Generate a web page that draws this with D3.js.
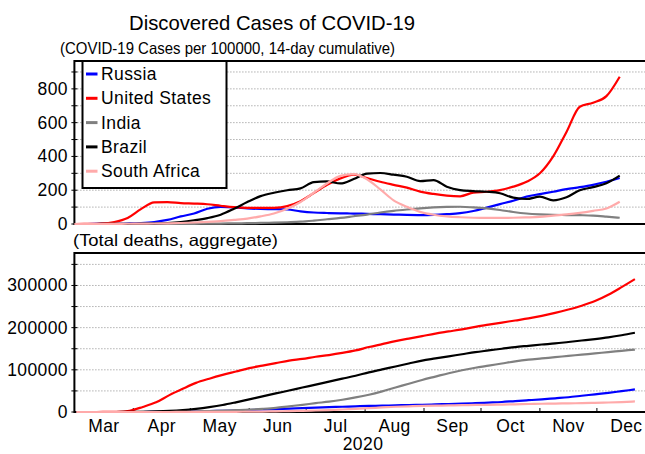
<!DOCTYPE html>
<html><head><meta charset="utf-8">
<script src="https://cdn.jsdelivr.net/npm/d3@7"></script>
<style>
html,body{margin:0;padding:0;background:#fff;overflow:hidden}
svg{display:block;font-family:"Liberation Sans",Arial,Helvetica,sans-serif}
</style></head><body>
<svg id="chart" width="645" height="454"></svg>
<script>
// Series names and colours (legend order = draw order)
const countries = ["Russia", "United States", "India", "Brazil", "South Africa"];
const colors = ["#0000ff", "#ff0000", "#808080", "#000000", "#ffaaaa"];

// 14-day cumulative cases per 100000, weekly samples
const caseDates = ["2020-03-01","2020-03-08","2020-03-15","2020-03-22","2020-03-29",
  "2020-04-05","2020-04-12","2020-04-19","2020-04-26","2020-05-03",
  "2020-05-10","2020-05-17","2020-05-24","2020-05-31","2020-06-07",
  "2020-06-14","2020-06-21","2020-06-28","2020-07-05","2020-07-12",
  "2020-07-19","2020-07-26","2020-08-02","2020-08-09","2020-08-16",
  "2020-08-23","2020-08-30","2020-09-06","2020-09-13","2020-09-20",
  "2020-09-27","2020-10-04","2020-10-11","2020-10-18","2020-10-25",
  "2020-11-01","2020-11-08","2020-11-15","2020-11-22","2020-11-29",
  "2020-12-06","2020-12-13"];
const casesRussia = [0,0,0.5,1,3, 6,12,24,45,62, 90,101,99,92,89, 88,86,75,68,65,
  63,62,60,58,56, 54,53,54,58,64, 77,97,118,138,162, 177,191,206,218,232, 250,272];
const casesUS = [0,1,3,12,36, 88,128,130,124,121, 117,108,100,96,95, 96,106,135,183,232,
  270,292,272,250,232, 215,192,178,168,164, 186,191,201,221,250, 300,400,545,694,718, 757,872];
const casesIndia = [0,0,0,0,0.1, 0.2,0.4,0.6,0.9,1.3, 1.9,2.6,3.6,4.8,6.3, 8.2,10.5,13.5,20,28,
  36,46,56,68,78, 86,93,98,101,102, 98,92,83,71,62, 57,54,53,52,50, 44,37];
const casesBrazil = [0,0,0.2,0.5,1, 2,3,6,12,22, 35,55,90,130,165, 185,200,211,248,252,
  240,266,298,302,292, 280,254,260,221,201, 195,191,182,156,148, 162,140,158,200,218, 241,286];
const casesSouthAfrica = [0,0,0.1,0.5,1.5, 2.5,3,4,6,9, 13,17,24,32,45, 62,90,130,185,240,
  285,295,265,205,140, 102,72,55,45,40, 37,36,36,37,39, 42,50,57,66,78, 92,132];

// Total deaths, weekly samples
const deathDates = ["2020-03-02","2020-03-09","2020-03-16","2020-03-23","2020-03-30",
  "2020-04-06","2020-04-13","2020-04-20","2020-04-27","2020-05-04",
  "2020-05-11","2020-05-18","2020-05-25","2020-06-01","2020-06-08",
  "2020-06-15","2020-06-22","2020-06-29","2020-07-06","2020-07-13",
  "2020-07-20","2020-07-27","2020-08-03","2020-08-10","2020-08-17",
  "2020-08-24","2020-08-31","2020-09-07","2020-09-14","2020-09-21",
  "2020-09-28","2020-10-05","2020-10-12","2020-10-19","2020-10-26",
  "2020-11-02","2020-11-09","2020-11-16","2020-11-23","2020-11-30",
  "2020-12-07","2020-12-14","2020-12-21"];
const deathsRussia = [0,0,0,0,10, 50,150,400,800,1400, 2000,2800,3600,4700,5900,
  7000,8000,9100,10500,11500, 12500,13500,14300,15000,15800, 16500,17200,18000,19000,19900,
  21000,22300,23700,26000,28000, 30000,32500,35000,38500,42000, 45500,49500,53500];
const deathsUS = [0,0,100,500,3000, 12000,23000,40000,55000,69000, 79000,88000,96000,104000,110000,
  116000,122000,126000,131000,135000, 140000,146000,154000,161000,168000, 174000,180000,186000,191000,196000,
  202000,207000,212000,217000,222000, 228000,235000,243000,252000,263000, 278000,296000,315000];
const deathsIndia = [0,0,0,0,30, 100,300,600,900,1400, 2200,3100,4300,5600,7500,
  9900,13500,17000,21000,24500, 29000,34500,41000,49000,58000, 67000,76000,84000,92000,99000,
  105000,110000,115000,120000,124000, 127000,130000,133000,136000,139000, 142000,145000,148000];
const deathsBrazil = [0,0,0,30,200, 600,1300,2500,4500,7500, 11500,16500,23000,30000,37000,
  44000,51000,58000,65000,72000, 79000,86000,94000,101000,108000, 115000,122000,127000,132000,137000,
  142000,146000,150000,154000,157000, 160000,162500,166000,169500,173000, 177000,182000,188000];
const deathsSouthAfrica = [0,0,0,0,0, 10,20,50,90,120, 200,300,500,700,1000,
  1500,2100,2700,3500,4500, 5900,7500,9000,11000,12400, 13500,14400,15000,15700,16200,
  16700,17100,17600,18300,19000, 19600,20000,20500,21000,21600, 22500,23500,25000];

// Axis ticks
const caseTicks = [0, 200, 400, 600, 800];
const caseGrid = [100, 200, 300, 400, 500, 600, 700, 800, 900];
const deathTicks = [0, 100000, 200000, 300000];
const deathGrid = [50000, 100000, 150000, 200000, 250000, 300000, 350000];
const monthLabels = ["Mar","Apr","May","Jun","Jul","Aug","Sep","Oct","Nov","Dec"];
const yearLabel = "2020";

const parse = d3.timeParse("%Y-%m-%d");
const svg = d3.select("#chart");
const W = 645;
const labelFont = 17.5;

const x = d3.scaleTime()
  .domain([new Date(2020, 2, 1), new Date(2021, 0, 1)])
  .range([74.4, 655.8]);

const panels = [
  { y: d3.scaleLinear().domain([0, 965]).range([224, 61]),
    dates: caseDates.map(parse),
    series: [casesRussia, casesUS, casesIndia, casesBrazil, casesSouthAfrica],
    ticks: caseTicks, grid: caseGrid },
  { y: d3.scaleLinear().domain([0, 377000]).range([412, 253]),
    dates: deathDates.map(parse),
    series: [deathsRussia, deathsUS, deathsIndia, deathsBrazil, deathsSouthAfrica],
    ticks: deathTicks, grid: deathGrid }
];

const x0 = x.range()[0];

panels.forEach(p => {
  const [yb, yt] = p.y.range();
  const g = svg.append("g");
  // dotted grid
  g.selectAll("line.grid").data(p.grid).join("line")
    .attr("x1", x0).attr("x2", W)
    .attr("y1", d => p.y(d)).attr("y2", d => p.y(d))
    .attr("stroke", "#8a8a8a").attr("stroke-width", 1)
    .attr("stroke-dasharray", "1,2");
  // y tick marks
  g.selectAll("line.tk").data([0].concat(p.grid)).join("line")
    .attr("x1", x0 - 3).attr("x2", x0 + 3)
    .attr("y1", d => p.y(d)).attr("y2", d => p.y(d))
    .attr("stroke", "#000").attr("stroke-width", 1);
  // y tick labels
  g.selectAll("text.yl").data(p.ticks).join("text")
    .attr("x", 68).attr("y", d => p.y(d) + 6)
    .attr("text-anchor", "end")
    .attr("font-size", labelFont).attr("letter-spacing", 0.4)
    .text(d => d);
  // frame
  g.append("path")
    .attr("d", `M${W},${yt}H${x0}V${yb}H${W}`)
    .attr("fill", "none").attr("stroke", "#000").attr("stroke-width", 2);
});

// month tick marks and mid-month labels on the lower panel
const months = d3.timeMonth.range(new Date(2020, 2, 1), new Date(2021, 0, 1));
const by = panels[1].y.range()[0];
svg.selectAll("line.mt").data(months.slice(1)).join("line")
  .attr("x1", d => x(d)).attr("x2", d => x(d))
  .attr("y1", by).attr("y2", by - 4)
  .attr("stroke", "#000").attr("stroke-width", 1);
svg.selectAll("text.ml").data(months).join("text")
  .attr("x", d => (x(d) + x(d3.timeMonth.offset(d, 1))) / 2)
  .attr("y", 431.7)
  .attr("text-anchor", "middle")
  .attr("font-size", labelFont).attr("letter-spacing", 0.4)
  .text((d, i) => monthLabels[i]);
svg.append("text").attr("x", 363).attr("y", 450)
  .attr("text-anchor", "middle").attr("font-size", labelFont).attr("letter-spacing", 0.4)
  .text(yearLabel);

// data lines
panels.forEach(p => {
  p.series.forEach((vals, i) => {
    const line = d3.line()
      .x((d, j) => x(p.dates[j]))
      .y(d => p.y(d))
      .curve(d3.curveMonotoneX);
    svg.append("path")
      .datum(vals)
      .attr("d", line)
      .attr("fill", "none")
      .attr("stroke", colors[i])
      .attr("stroke-width", 2.2)
      .attr("stroke-linejoin", "round");
  });
});

// legend
const lg = svg.append("g");
lg.append("rect").attr("x", 82.5).attr("y", 61).attr("width", 144).attr("height", 127)
  .attr("fill", "#fff").attr("stroke", "#000").attr("stroke-width", 2);
countries.forEach((c, i) => {
  const base = 80 + i * 24.3;
  lg.append("line").attr("x1", 86).attr("x2", 97.5)
    .attr("y1", base - 6).attr("y2", base - 6)
    .attr("stroke", colors[i]).attr("stroke-width", 3);
  lg.append("text").attr("x", 101).attr("y", base)
    .attr("font-size", labelFont).attr("letter-spacing", 0.4).text(c);
});

// titles
svg.append("text").attr("x", 129).attr("y", 30)
  .attr("font-size", 21).attr("textLength", 286).attr("lengthAdjust", "spacingAndGlyphs")
  .text("Discovered Cases of COVID-19");
svg.append("text").attr("x", 60).attr("y", 53.5)
  .attr("font-size", 16.5).attr("textLength", 335).attr("lengthAdjust", "spacingAndGlyphs")
  .text("(COVID-19 Cases per 100000, 14-day cumulative)");
svg.append("text").attr("x", 73).attr("y", 245.5)
  .attr("font-size", 16.5).attr("textLength", 205).attr("lengthAdjust", "spacingAndGlyphs")
  .text("(Total deaths, aggregate)");
</script>
</body></html>
